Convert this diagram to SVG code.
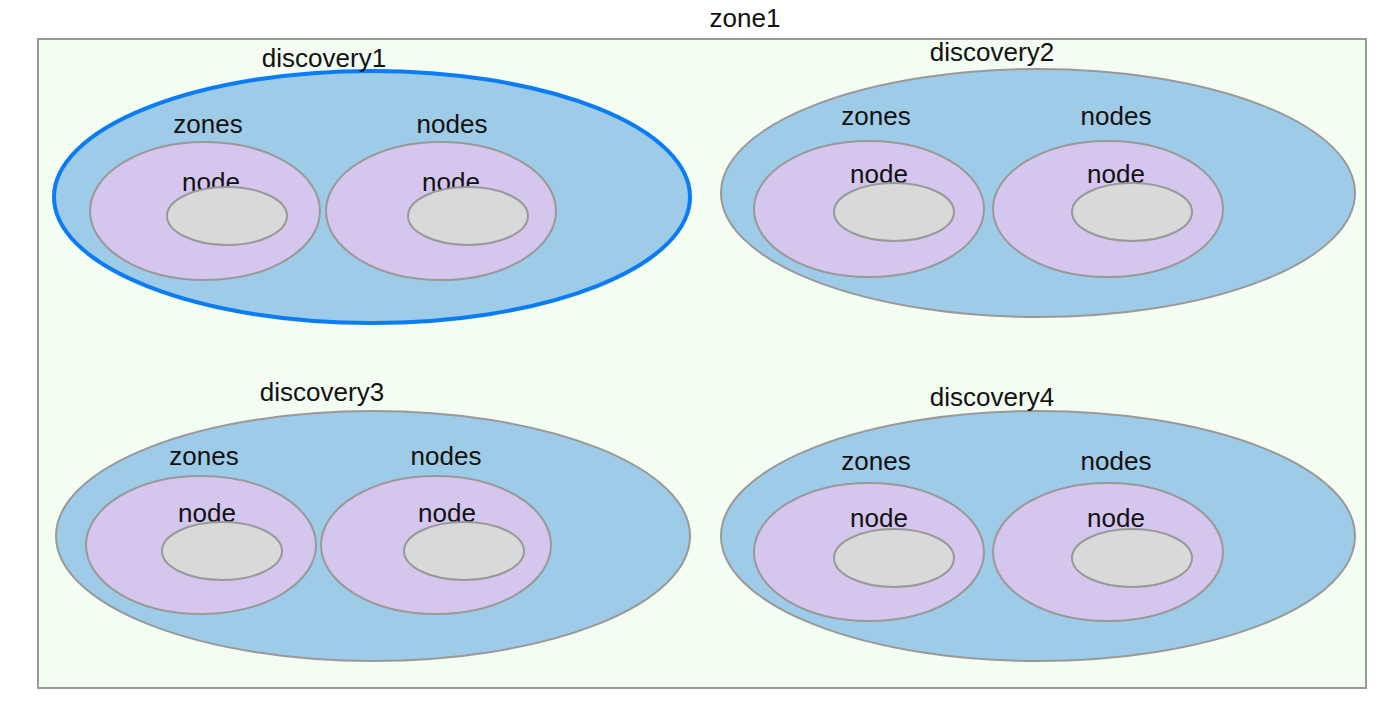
<svg xmlns="http://www.w3.org/2000/svg" width="1398" height="720" viewBox="0 0 1398 720">
<style>
text{font-family:"Liberation Sans",Arial,sans-serif;font-size:26px;fill:#111;text-anchor:middle}
.d{fill:#9ecce8;stroke:#999;stroke-width:2}
.sel{stroke:#0a7cf5;stroke-width:4}
.p{fill:#d5c6ee;stroke:#999;stroke-width:2}
.n{fill:#d9d9d9;stroke:#999;stroke-width:2}
</style>
<rect width="1398" height="720" fill="#fff"/>
<g id="zone1">
<rect x="38" y="39" width="1328" height="649" fill="#f3fdf1" stroke="#999" stroke-width="2"/>
<text x="745" y="27">zone1</text>
</g>
<g id="discovery1">
<ellipse class="d sel" cx="372" cy="197" rx="318" ry="126"/>
<text x="324" y="67">discovery1</text>
<text x="208" y="133">zones</text><text x="452" y="133">nodes</text>
<ellipse class="p" cx="205" cy="211" rx="115" ry="69"/><ellipse class="p" cx="441" cy="211" rx="115" ry="69"/>
<text x="211" y="191">node</text><ellipse class="n" cx="227" cy="216" rx="60" ry="29"/>
<text x="451" y="191">node</text><ellipse class="n" cx="468" cy="216" rx="60" ry="29"/>
</g>
<g id="discovery2">
<ellipse class="d" cx="1038" cy="193" rx="317" ry="124"/>
<text x="992" y="61">discovery2</text>
<text x="876" y="125">zones</text><text x="1116" y="125">nodes</text>
<ellipse class="p" cx="869" cy="209" rx="115" ry="68"/><ellipse class="p" cx="1108" cy="209" rx="115" ry="68"/>
<text x="879" y="183">node</text><ellipse class="n" cx="894" cy="212" rx="60" ry="29"/>
<text x="1116" y="183">node</text><ellipse class="n" cx="1132" cy="212" rx="60" ry="29"/>
</g>
<g id="discovery3">
<ellipse class="d" cx="373" cy="536" rx="317" ry="125"/>
<text x="322" y="401">discovery3</text>
<text x="204" y="465">zones</text><text x="446" y="465">nodes</text>
<ellipse class="p" cx="201" cy="545" rx="115" ry="69"/><ellipse class="p" cx="436" cy="545" rx="115" ry="69"/>
<text x="207" y="522">node</text><ellipse class="n" cx="222" cy="551" rx="60" ry="29"/>
<text x="447" y="522">node</text><ellipse class="n" cx="464" cy="551" rx="60" ry="29"/>
</g>
<g id="discovery4">
<ellipse class="d" cx="1038" cy="536" rx="317" ry="125"/>
<text x="992" y="406">discovery4</text>
<text x="876" y="470">zones</text><text x="1116" y="470">nodes</text>
<ellipse class="p" cx="869" cy="552" rx="115" ry="69"/><ellipse class="p" cx="1108" cy="552" rx="115" ry="69"/>
<text x="879" y="527">node</text><ellipse class="n" cx="894" cy="558" rx="60" ry="29"/>
<text x="1116" y="527">node</text><ellipse class="n" cx="1132" cy="558" rx="60" ry="29"/>
</g>
<g id="connectors"/>
</svg>
